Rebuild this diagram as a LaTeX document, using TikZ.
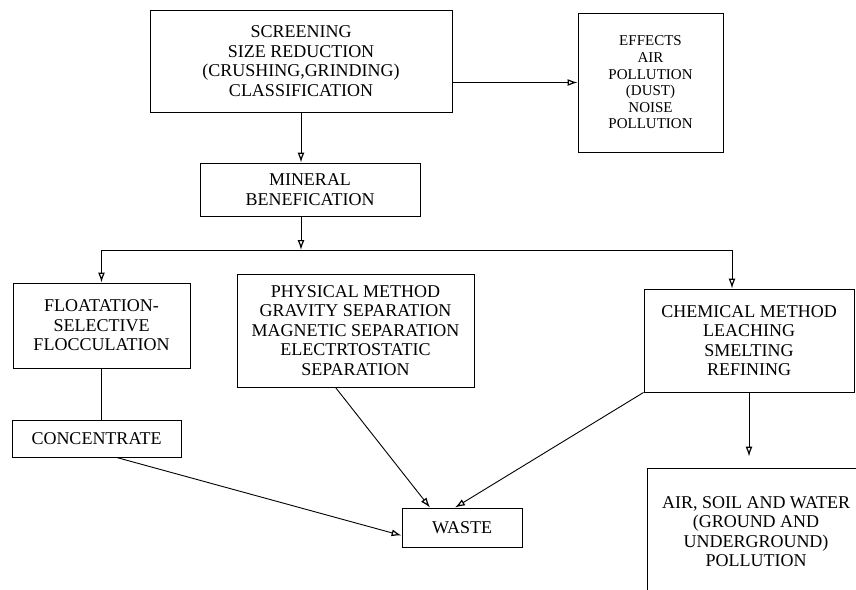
\documentclass[tikz,border=0pt]{standalone}
\usepackage{fontspec}
\setmainfont{Liberation Serif}
\usetikzlibrary{arrows.meta,positioning}

\begin{document}
\begin{tikzpicture}[x=1pt,y=-1pt,box/.style={draw,line width=0.9pt,align=center,inner sep=0pt,font=\fontsize{18}{19.5}\selectfont},link/.style={line width=0.9pt},>={Latex[open,length=10pt,width=7pt,line width=1.2pt]}]
                  \useasboundingbox (0,0) rectangle (856,589);
                  \clip (0,0) rectangle (856,589);

                  \node[box,minimum width=302pt,minimum height=102pt] (scr) at (301,61) {SCREENING\\SIZE REDUCTION\\(CRUSHING,GRINDING)\\CLASSIFICATION};
                  \node[box,minimum width=145pt,minimum height=139pt,font=\fontsize{15}{16.6}\selectfont] (eff) at (650.5,82.5) {EFFECTS\\AIR\\POLLUTION\\(DUST)\\NOISE\\POLLUTION};
                  \node[box,minimum width=220pt,minimum height=53pt] (min) at (310,189.5) {MINERAL\\BENEFICATION};
                  \coordinate (br) at (301,250);

                  \node[box,minimum width=177pt,minimum height=85pt] (flo) at (101.5,325.5) {FLOATATION-\\SELECTIVE\\FLOCCULATION};
                  \node[box,minimum width=237pt,minimum height=113pt] (phy) at (355.5,330.5) {PHYSICAL METHOD\\GRAVITY SEPARATION\\MAGNETIC SEPARATION\\ELECTRTOSTATIC\\SEPARATION};
                  \node[box,minimum width=210pt,minimum height=103pt] (che) at (749,340.5) {CHEMICAL METHOD\\LEACHING\\SMELTING\\REFINING};

                  \node[box,minimum width=169pt,minimum height=37pt] (con) at (96.5,438.5) {CONCENTRATE};
                  \node[box,minimum width=120pt,minimum height=39pt] (was) at (462,527.5) {WASTE};
                  \node[box,minimum width=218pt,minimum height=127pt] (pol) at (756,531.5) {AIR, SOIL AND WATER\\(GROUND AND\\UNDERGROUND)\\POLLUTION};

                  \draw[->,link] (scr.east |- eff.west) -- (eff.west);
                  \draw[->,link] (scr.south) -- (scr.south |- min.north);
                  \draw[->,link] (scr.south |- min.south) -- (br);
                  \draw[->,link] (br) -| (flo.north);
                  \draw[->,link] (br) -| ([xshift=-17pt]che.north);
                  \draw[link] (flo.south) -- (flo.south |- con.north);
                  \draw[->,link] ([xshift=20pt]con.south) -- ([yshift=-8pt]was.west);
                  \draw[->,link] ([xshift=-20pt]phy.south) -- ([xshift=-32pt]was.north);
                  \draw[->,link] (che.south west) -- ([xshift=-7pt]was.north);
                  \draw[->,link,shorten >=11pt] (che.south) -- (che.south |- pol.north);
              \end{tikzpicture}
\end{document}
